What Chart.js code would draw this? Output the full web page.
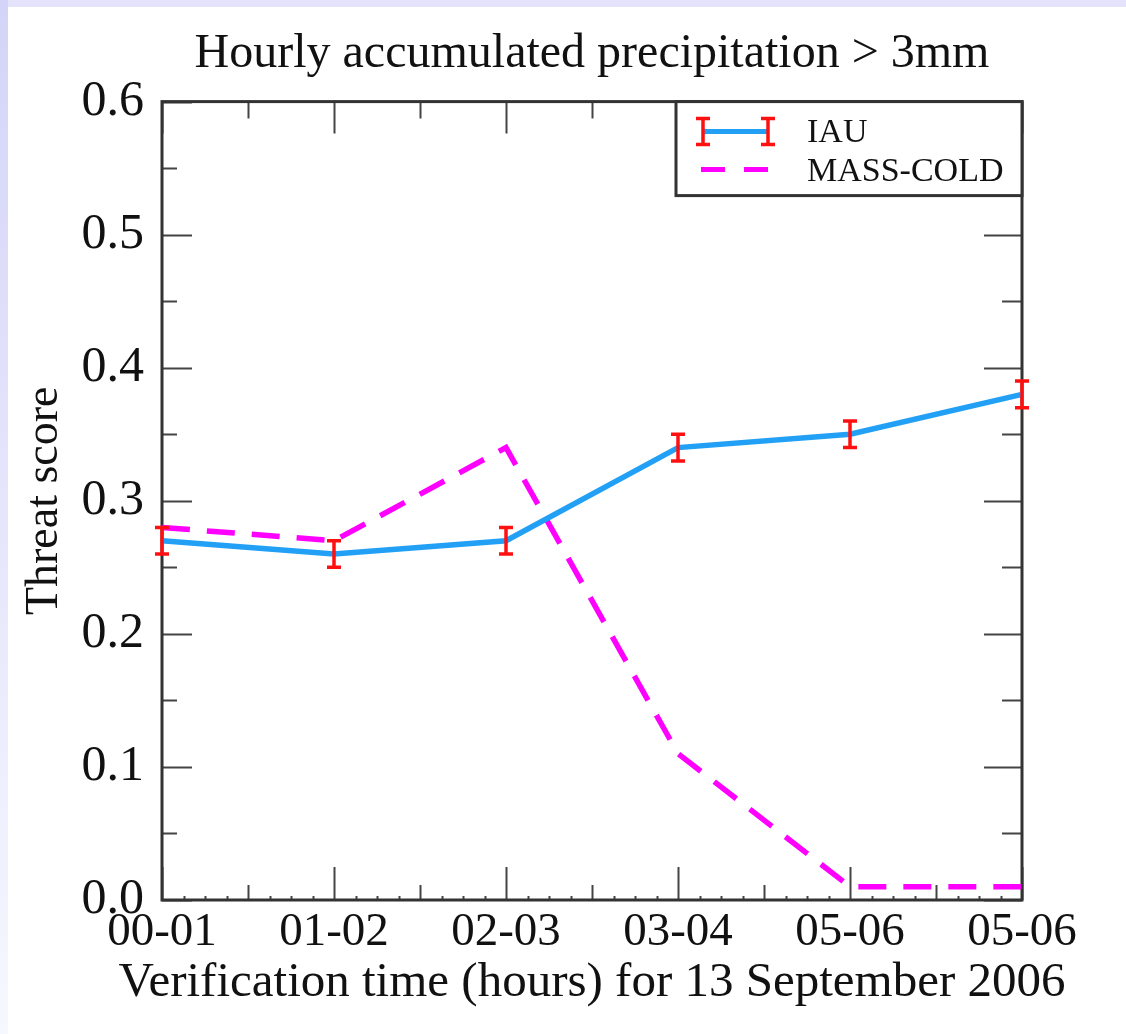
<!DOCTYPE html>
<html><head><meta charset="utf-8">
<script src="https://cdn.jsdelivr.net/npm/chart.js@4"></script>
<style>
html,body{margin:0;padding:0;background:#fff;width:1126px;height:1034px;overflow:hidden}
#topstrip{position:absolute;left:0;top:0;width:1126px;height:7px;background:#e3e3fb}
#leftstrip{position:absolute;left:0;top:0;width:8px;height:1034px;background:linear-gradient(#d4d4f8,#f7f7ff)}
#wrap{position:absolute;left:0;top:0;width:1126px;height:1034px}
</style></head><body>
<div id="topstrip"></div><div id="leftstrip"></div>
<div id="wrap"><canvas id="c" width="1126" height="1034"></canvas></div>
<script>
// ---- data ----
const categories = ['00-01', '01-02', '02-03', '03-04', '05-06', '05-06'];
const iauValues = [0.27, 0.26, 0.27, 0.34, 0.35, 0.38];
const iauErrors = [0.01, 0.01, 0.01, 0.01, 0.01, 0.01];
const massColdValues = [0.28, 0.27, 0.34, 0.11, 0.01, 0.01];
const yTickValues = [0.0, 0.1, 0.2, 0.3, 0.4, 0.5, 0.6];
const seriesNames = ['IAU', 'MASS-COLD'];
const chartTitle = 'Hourly accumulated precipitation > 3mm';
const xTitle = 'Verification time (hours) for 13 September 2006';
const yTitle = 'Threat score';

const FAM = "'Liberation Serif', 'Times New Roman', serif";
const BLUE = '#22a0f6';
const MAGENTA = '#ff00ff';
const RED = '#ff1010';

const framePlugin = {
  id: 'frame',
  beforeDatasetsDraw(chart) {
    const {ctx, chartArea: a, scales: {x, y}} = chart;
    ctx.save();
    ctx.strokeStyle = '#444';
    ctx.lineWidth = 2;
    for (let k = 0; k <= 12; k++) {
      const v = k * 0.05;
      const py = Math.round(y.getPixelForValue(v)) + 0.5;
      const major = k % 2 === 0;
      const lL = major ? 30 : 15, lR = major ? 38 : 20;
      ctx.beginPath();
      ctx.moveTo(a.left, py); ctx.lineTo(a.left + lL, py);
      ctx.moveTo(a.right, py); ctx.lineTo(a.right - lR, py);
      ctx.stroke();
    }
    const n = categories.length - 1;
    for (let i = 0; i < n; i++) {
      for (let s = 0; s <= 8; s++) {
        if (s === 8 && i < n - 1) continue;
        const px = Math.round(x.getPixelForValue(i + s / 8)) + 0.5;
        let lB, lT;
        if (s === 0 || s === 8) { lB = 33; lT = 32; }
        else if (s === 4) { lB = 15; lT = 17; }
        else { lB = 4; lT = 0; }
        ctx.beginPath();
        ctx.moveTo(px, a.bottom); ctx.lineTo(px, a.bottom - lB);
        if (lT) { ctx.moveTo(px, a.top); ctx.lineTo(px, a.top + lT); }
        ctx.stroke();
      }
    }
    ctx.strokeStyle = '#333';
    ctx.lineWidth = 3;
    ctx.strokeRect(a.left, a.top, a.right - a.left, a.bottom - a.top);
    ctx.restore();
  },
  afterDatasetsDraw(chart) {
    const {ctx, chartArea: a, scales: {x, y}} = chart;
    const ds = chart.data.datasets;
    ctx.save();
    ctx.strokeStyle = RED;
    ctx.lineWidth = 3.5;
    iauValues.forEach((v, i) => {
      const px = x.getPixelForValue(i);
      const yt = y.getPixelForValue(v + iauErrors[i]);
      const yb = y.getPixelForValue(v - iauErrors[i]);
      ctx.beginPath();
      ctx.moveTo(px, yt); ctx.lineTo(px, yb);
      ctx.moveTo(px - 7, yt); ctx.lineTo(px + 7, yt);
      ctx.moveTo(px - 7, yb); ctx.lineTo(px + 7, yb);
      ctx.stroke();
    });
    const bl = a.right - 346, bt = a.top, br = a.right, bb = a.top + 94;
    ctx.fillStyle = '#fff';
    ctx.fillRect(bl, bt, br - bl, bb - bt);
    ctx.strokeStyle = '#333';
    ctx.lineWidth = 3;
    ctx.strokeRect(bl, bt, br - bl, bb - bt);
    const x0 = bl + 27, x1 = bl + 92;
    const y0 = bt + 30, y1 = bt + 68;
    ctx.strokeStyle = ds[0].borderColor;
    ctx.lineWidth = 5;
    ctx.beginPath(); ctx.moveTo(x0, y0); ctx.lineTo(x1, y0); ctx.stroke();
    ctx.strokeStyle = RED; ctx.lineWidth = 3.5;
    [x0, x1].forEach(px => {
      ctx.beginPath();
      ctx.moveTo(px, y0 - 13); ctx.lineTo(px, y0 + 13);
      ctx.moveTo(px - 7, y0 - 13); ctx.lineTo(px + 7, y0 - 13);
      ctx.moveTo(px - 7, y0 + 13); ctx.lineTo(px + 7, y0 + 13);
      ctx.stroke();
    });
    ctx.strokeStyle = ds[1].borderColor;
    ctx.lineWidth = 5;
    ctx.setLineDash([24, 19]);
    ctx.beginPath(); ctx.moveTo(x0 - 2, y1); ctx.lineTo(x1 + 2, y1); ctx.stroke();
    ctx.setLineDash([]);
    ctx.fillStyle = '#111';
    ctx.font = '34px ' + FAM;
    ctx.textBaseline = 'middle';
    ctx.textAlign = 'left';
    ctx.fillText(ds[0].label, bl + 131, y0 + 1);
    ctx.fillText(ds[1].label, bl + 131, y1 + 2);
    // x-axis title (drawn without width squeezing)
    ctx.font = '49px ' + FAM;
    ctx.textAlign = 'center';
    ctx.textBaseline = 'alphabetic';
    ctx.fillText(xTitle, (a.left + a.right) / 2, 996);
    ctx.restore();
  }
};

new Chart(document.getElementById('c'), {
  type: 'line',
  data: {
    labels: categories,
    datasets: [
      { label: seriesNames[0], data: iauValues, borderColor: BLUE, borderWidth: 5.5,
        pointRadius: 0, tension: 0, fill: false },
      { label: seriesNames[1], data: massColdValues, borderColor: MAGENTA, borderWidth: 5.5,
        borderDash: [28, 17], pointRadius: 0, tension: 0, fill: false }
    ]
  },
  options: {
    responsive: false,
    animation: false,
    devicePixelRatio: 1,
    layout: { padding: { left: 0, top: 0, right: 104, bottom: 0 } },
    plugins: {
      legend: { display: false },
      tooltip: { enabled: false },
      title: {
        display: true, text: chartTitle, fullSize: false, color: '#111',
        font: { size: 48, family: FAM, weight: 'normal', lineHeight: 1.2 },
        padding: { top: 26, bottom: 18 }
      }
    },
    scales: {
      x: {
        type: 'category',
        offset: false,
        grid: { display: false, drawTicks: false },
        border: { display: false },
        ticks: { font: { size: 47, family: FAM }, color: '#111', padding: 4,
                 maxRotation: 0, autoSkip: false },
        title: { display: false, text: xTitle },
        afterFit(s) { s.height = 134; s.paddingLeft = 0; s.paddingRight = 0; }
      },
      y: {
        min: 0, max: 0.6,
        afterBuildTicks(s) { s.ticks = yTickValues.map(v => ({ value: v })); },
        grid: { display: false, drawTicks: false },
        border: { display: false },
        ticks: { font: { size: 50, family: FAM }, color: '#111', padding: 18,
                 callback: v => Number(v).toFixed(1) },
        title: { display: true, text: yTitle, color: '#111',
                 font: { size: 46, family: FAM, lineHeight: 1.2 }, padding: { top: 17, bottom: 0 } },
        afterFit(s) { s.width = 162; s.paddingTop = 0; s.paddingBottom = 0; }
      }
    }
  },
  plugins: [framePlugin]
});
</script>
</body></html>
